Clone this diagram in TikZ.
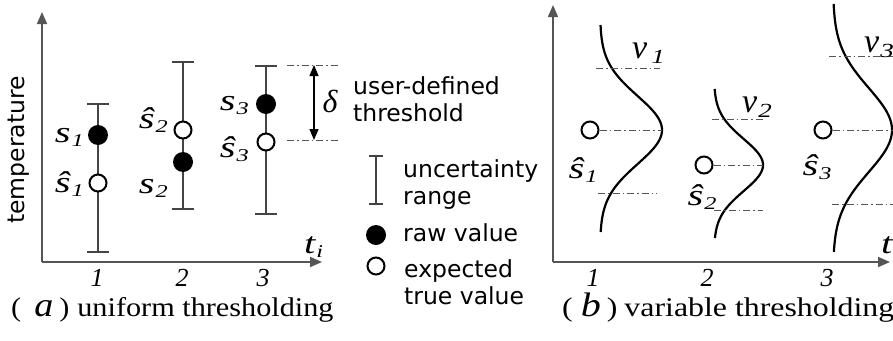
\documentclass[tikz,border=0pt]{standalone}
\usepackage{fontspec}
\setmainfont{Liberation Serif}
\newfontfamily\sansfont{DejaVu Sans}
\newfontfamily\widefont[FakeStretch=1.35]{Liberation Serif}
\newfontfamily\capfonta[FakeStretch=1.12]{Liberation Serif}
\newfontfamily\capfontb[FakeStretch=1.18]{Liberation Serif}
\usetikzlibrary{arrows.meta}

% italic variable with a lowered index, e.g. s_1
\newcommand\varlab[2]{{\widefont\itshape\fontsize{30}{30}\selectfont #1\kern1pt\raisebox{-4pt}{\fontsize{18}{18}\selectfont #2}}}
% density label v_i
\newcommand\vlab[2]{{\itshape\fontsize{34}{34}\selectfont v\kern#1\raisebox{-5pt}{\widefont\fontsize{20}{20}\selectfont #2}}}

\definecolor{axisgray}{HTML}{555555}
\definecolor{bargray}{HTML}{444444}
\definecolor{dashgray}{HTML}{555555}

\tikzset{
  axis/.style={draw=axisgray, line width=1.6pt, -{Triangle[length=12pt,width=10pt]}},
  errbar/.style={draw=bargray, line width=1.3pt},
  rawdot/.style={circle, fill=black, minimum size=20pt, inner sep=0pt},
  truedot/.style={circle, draw=black, line width=2pt, fill=white, minimum size=17pt, inner sep=0pt},
  guide/.style={draw=dashgray, line width=1pt, dash pattern=on 7pt off 3pt on 1.5pt off 3pt},
  density/.style={draw=black, line width=2.2pt},
  lab/.style={inner sep=0pt},
  tick/.style={inner sep=0pt, font=\itshape\fontsize{26}{26}\selectfont},
  legend/.style={inner sep=0pt, anchor=base west, align=left,
    font=\sansfont\fontsize{23.5}{27}\selectfont},
}

\begin{document}
\begin{tikzpicture}[x=1pt, y=-1pt]
\useasboundingbox (0,0) rectangle (893,340);

% ---------------- (a) uniform thresholding ----------------
\coordinate (oa) at (42,262);
\coordinate (ya) at (42,12);
\coordinate (xa) at (322,262);
\draw[axis] (oa) -- (ya);
\draw[axis] (oa) -- (xa);
\node[lab, rotate=90, font=\sansfont\fontsize{23.5}{27}\selectfont] (ylab) at (19,150) {temperature};
\node[lab, anchor=base west] (tia) at (304,253) {\varlab{t}{i}};

% uncertainty ranges
\foreach \n/\x/\top/\bot in {1/98/104/252, 2/183/62/209, 3/266/66/214}{
  \coordinate (bt\n) at (\x,\top);
  \coordinate (bb\n) at (\x,\bot);
  \draw[errbar] (bt\n) -- (bb\n);
  \draw[errbar] ([xshift=-11pt]bt\n) -- ([xshift=11pt]bt\n);
  \draw[errbar] ([xshift=-11pt]bb\n) -- ([xshift=11pt]bb\n);
}

% raw and expected values
\node[rawdot]  (s1)  at (98,135) {};
\node[truedot] (e1)  at (98,183) {};
\node[rawdot]  (s2)  at (183,162) {};
\node[truedot] (e2)  at (183,130) {};
\node[rawdot]  (s3)  at (266,104) {};
\node[truedot] (e3)  at (266,142) {};

\node[lab, anchor=base east] (ls1) at (84,142) {\varlab{s}{1}};
\node[lab, anchor=base east] (le1) at (84,192) {\varlab{ŝ}{1}};
\node[lab, anchor=base east] (le2) at (168,128) {\varlab{ŝ}{2}};
\node[lab, anchor=base east] (ls2) at (168,193) {\varlab{s}{2}};
\node[lab, anchor=base east] (ls3) at (249,110) {\varlab{s}{3}};
\node[lab, anchor=base east] (le3) at (249,157) {\varlab{ŝ}{3}};

% threshold delta
\coordinate (dt0) at (287,65);  \coordinate (dt1) at (340,65);
\coordinate (db0) at (287,140); \coordinate (db1) at (340,140);
\draw[guide] (dt0) -- (dt1);
\draw[guide] (db0) -- (db1);
\coordinate (at) at (314,65);
\coordinate (ab) at (314,140);
\draw[line width=1.3pt, {Triangle[length=11pt,width=9pt]}-{Triangle[length=11pt,width=9pt]}] (at) -- (ab);
\node[lab] (delta) at (330,101) {\itshape\fontsize{32}{32}\selectfont δ};
\node[legend] (thr) at (353,121) {user-defined\\threshold};

% legend
\coordinate (lgt) at (376,156);
\coordinate (lgb) at (376,204);
\draw[errbar, line width=1.1pt] (lgt) -- (lgb);
\draw[errbar, line width=1.1pt] ([xshift=-7pt]lgt) -- ([xshift=7pt]lgt);
\draw[errbar, line width=1.1pt] ([xshift=-7pt]lgb) -- ([xshift=7pt]lgb);
\node[legend] (lunc) at (403,204) {uncertainty\\range};
\node[rawdot] (lraw) at (376,235) {};
\node[legend] (lrawt) at (403,241) {raw value};
\node[truedot] (ltrue) at (376,266) {};
\node[legend] (ltruet) at (404,304) {expected\\true value};

% ticks and caption
\node[tick] (ta1) at (97,278) {1};
\node[tick] (ta2) at (182,278) {2};
\node[tick] (ta3) at (263,278) {3};
\node[lab, anchor=base west] (capa) at (11,316)
  {\capfonta\fontsize{27}{27}\selectfont (\hspace{13pt}{\itshape\fontsize{34}{34}\selectfont a}\hspace{6pt})\hspace{8pt}uniform thresholding};

% ---------------- (b) variable thresholding ----------------
\coordinate (ob) at (553,262);
\coordinate (yb) at (553,5);
\coordinate (xb) at (890,262);
\draw[axis] (ob) -- (yb);
\draw[axis] (ob) -- (xb);
\node[lab, anchor=base west] (tib) at (881,253) {\varlab{t}{i}};

% distributions of the expected value
\draw[density] plot[domain=25:232, samples=90, variable=\t]
  ({600+62*exp(-0.5*((\t-130)/34)^2)}, \t);
\draw[density] plot[domain=89:238, samples=90, variable=\t]
  ({714+49*exp(-0.5*((\t-165)/26)^2)}, \t);
\draw[density] plot[domain=4:252, samples=110, variable=\t]
  ({833+59*exp(-0.5*((\t-130)/42)^2)}, \t);

\node[truedot] (f1) at (590,130) {};
\node[truedot] (f2) at (704,165) {};
\node[truedot] (f3) at (823,130) {};

\coordinate (p1) at (662,130);
\coordinate (p2) at (763,165);
\coordinate (p3) at (895,130);
\draw[guide] (f1) -- (p1);
\draw[guide] (f2) -- (p2);
\draw[guide] (f3) -- (p3);

\coordinate (u1a) at (596,68);  \coordinate (u1b) at (660,68);
\coordinate (l1a) at (598,193); \coordinate (l1b) at (657,193);
\coordinate (u2a) at (712,119); \coordinate (u2b) at (763,119);
\coordinate (l2a) at (714,210); \coordinate (l2b) at (763,210);
\coordinate (u3a) at (829,56);  \coordinate (u3b) at (895,56);
\coordinate (l3a) at (832,204); \coordinate (l3b) at (895,204);
\draw[guide] (u1a) -- (u1b);
\draw[guide] (l1a) -- (l1b);
\draw[guide] (u2a) -- (u2b);
\draw[guide] (l2a) -- (l2b);
\draw[guide] (u3a) -- (u3b);
\draw[guide] (l3a) -- (l3b);

\node[lab, anchor=base] (lf1) at (583,178) {\varlab{ŝ}{1}};
\node[lab, anchor=base] (lf2) at (702,205) {\varlab{ŝ}{2}};
\node[lab, anchor=base] (lf3) at (817,175) {\varlab{ŝ}{3}};

\node[lab, anchor=base west] (v1) at (632,58) {\vlab{4pt}{1}};
\node[lab, anchor=base west] (v2) at (742,112) {\vlab{1pt}{2}};
\node[lab, anchor=base west] (v3) at (864,52) {\vlab{1pt}{3}};

\node[tick] (tb1) at (593,278) {1};
\node[tick] (tb2) at (707,278) {2};
\node[tick] (tb3) at (827,278) {3};
\node[lab, anchor=base west] (capb) at (562,316)
  {\capfontb\fontsize{27}{27}\selectfont (\hspace{8pt}{\itshape\fontsize{34}{34}\selectfont b}\hspace{6pt})\hspace{7pt}variable thresholding};
\end{tikzpicture}
\end{document}
